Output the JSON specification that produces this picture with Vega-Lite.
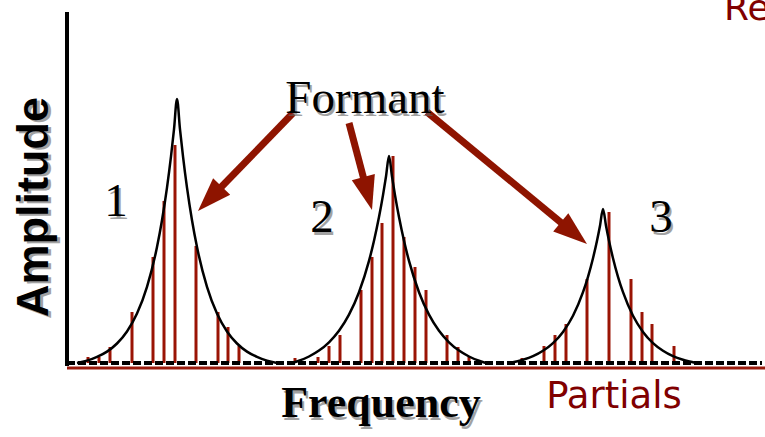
{
  "$schema": "https://vega.github.io/schema/vega-lite/v6.json",
  "width": 765,
  "height": 437,
  "autosize": "none",
  "padding": 0,
  "background": "white",
  "config": {"view": {"stroke": null}},
  "datasets": {
    "partials": [
      {"formant": 1, "f": 88, "a": 6}, {"formant": 1, "f": 99, "a": 6}, {"formant": 1, "f": 110, "a": 16},
      {"formant": 1, "f": 132, "a": 51}, {"formant": 1, "f": 153, "a": 106}, {"formant": 1, "f": 164, "a": 162},
      {"formant": 1, "f": 175, "a": 218}, {"formant": 1, "f": 196, "a": 117}, {"formant": 1, "f": 218, "a": 51},
      {"formant": 1, "f": 228, "a": 36}, {"formant": 1, "f": 239, "a": 17},
      {"formant": 2, "f": 295, "a": 5}, {"formant": 2, "f": 318, "a": 6}, {"formant": 2, "f": 329, "a": 17},
      {"formant": 2, "f": 340, "a": 28}, {"formant": 2, "f": 361, "a": 73}, {"formant": 2, "f": 372, "a": 106},
      {"formant": 2, "f": 382, "a": 140}, {"formant": 2, "f": 393, "a": 207}, {"formant": 2, "f": 404, "a": 126},
      {"formant": 2, "f": 415, "a": 96}, {"formant": 2, "f": 426, "a": 73}, {"formant": 2, "f": 447, "a": 28},
      {"formant": 2, "f": 458, "a": 16}, {"formant": 2, "f": 469, "a": 6},
      {"formant": 3, "f": 522, "a": 5}, {"formant": 3, "f": 544, "a": 17}, {"formant": 3, "f": 555, "a": 28},
      {"formant": 3, "f": 566, "a": 39}, {"formant": 3, "f": 587, "a": 84}, {"formant": 3, "f": 609, "a": 151},
      {"formant": 3, "f": 631, "a": 84}, {"formant": 3, "f": 642, "a": 51}, {"formant": 3, "f": 652, "a": 39},
      {"formant": 3, "f": 674, "a": 17}
    ],
    "envelope": [
      {"formant": 1, "f": 77, "a": 0}, {"formant": 1, "f": 87, "a": 2.4}, {"formant": 1, "f": 97, "a": 6.1},
      {"formant": 1, "f": 107, "a": 11.4}, {"formant": 1, "f": 117, "a": 19.5}, {"formant": 1, "f": 127, "a": 31.5},
      {"formant": 1, "f": 137, "a": 49.4}, {"formant": 1, "f": 147, "a": 76.1}, {"formant": 1, "f": 157, "a": 115.9},
      {"formant": 1, "f": 162, "a": 142.7}, {"formant": 1, "f": 167, "a": 175.3}, {"formant": 1, "f": 171, "a": 206.6},
      {"formant": 1, "f": 174, "a": 233.6}, {"formant": 1, "f": 177, "a": 264}, {"formant": 1, "f": 180, "a": 233.6},
      {"formant": 1, "f": 183, "a": 206.6}, {"formant": 1, "f": 187, "a": 175.3}, {"formant": 1, "f": 192, "a": 142.7},
      {"formant": 1, "f": 197, "a": 115.9}, {"formant": 1, "f": 207, "a": 76.1}, {"formant": 1, "f": 217, "a": 49.4},
      {"formant": 1, "f": 227, "a": 31.5}, {"formant": 1, "f": 237, "a": 19.5}, {"formant": 1, "f": 247, "a": 11.4},
      {"formant": 1, "f": 257, "a": 6.1}, {"formant": 1, "f": 267, "a": 2.4}, {"formant": 1, "f": 277, "a": 0},
      {"formant": 2, "f": 292, "a": 0}, {"formant": 2, "f": 299, "a": 2.2}, {"formant": 2, "f": 309, "a": 6.5},
      {"formant": 2, "f": 319, "a": 12.4}, {"formant": 2, "f": 329, "a": 20.7}, {"formant": 2, "f": 339, "a": 32.2},
      {"formant": 2, "f": 349, "a": 48.3}, {"formant": 2, "f": 359, "a": 70.8}, {"formant": 2, "f": 369, "a": 102.1},
      {"formant": 2, "f": 374, "a": 122.2}, {"formant": 2, "f": 379, "a": 145.9}, {"formant": 2, "f": 383, "a": 167.9},
      {"formant": 2, "f": 386, "a": 186.5}, {"formant": 2, "f": 389, "a": 207}, {"formant": 2, "f": 392, "a": 186.5},
      {"formant": 2, "f": 395, "a": 167.9}, {"formant": 2, "f": 399, "a": 145.9}, {"formant": 2, "f": 404, "a": 122.2},
      {"formant": 2, "f": 409, "a": 102.1}, {"formant": 2, "f": 419, "a": 70.8}, {"formant": 2, "f": 429, "a": 48.3},
      {"formant": 2, "f": 439, "a": 32.2}, {"formant": 2, "f": 449, "a": 20.7}, {"formant": 2, "f": 459, "a": 12.4},
      {"formant": 2, "f": 469, "a": 6.5}, {"formant": 2, "f": 479, "a": 2.2}, {"formant": 2, "f": 486, "a": 0},
      {"formant": 3, "f": 510, "a": 0}, {"formant": 3, "f": 523, "a": 3.2}, {"formant": 3, "f": 533, "a": 6.8},
      {"formant": 3, "f": 543, "a": 12.2}, {"formant": 3, "f": 553, "a": 19.9}, {"formant": 3, "f": 563, "a": 31.1},
      {"formant": 3, "f": 573, "a": 47.3}, {"formant": 3, "f": 583, "a": 70.8}, {"formant": 3, "f": 588, "a": 86.2},
      {"formant": 3, "f": 593, "a": 104.8}, {"formant": 3, "f": 597, "a": 122.3}, {"formant": 3, "f": 600, "a": 137.3},
      {"formant": 3, "f": 603, "a": 154}, {"formant": 3, "f": 606, "a": 137.3}, {"formant": 3, "f": 609, "a": 122.3},
      {"formant": 3, "f": 613, "a": 104.8}, {"formant": 3, "f": 618, "a": 86.2}, {"formant": 3, "f": 623, "a": 70.8},
      {"formant": 3, "f": 633, "a": 47.3}, {"formant": 3, "f": 643, "a": 31.1}, {"formant": 3, "f": 653, "a": 19.9},
      {"formant": 3, "f": 663, "a": 12.2}, {"formant": 3, "f": 673, "a": 6.8}, {"formant": 3, "f": 683, "a": 3.2},
      {"formant": 3, "f": 696, "a": 0}
    ],
    "arrows": [
      {"formant": 1, "f": 293, "a": 250, "f_base": 214.7, "a_base": 169.2, "f_tip": 198, "a_tip": 152, "heading": 224.1},
      {"formant": 2, "f": 349, "a": 240, "f_base": 365.9, "a_base": 176.2, "f_tip": 372, "a_tip": 153, "heading": 165.2},
      {"formant": 3, "f": 427, "a": 251, "f_base": 568.5, "a_base": 134.3, "f_tip": 587, "a_tip": 119, "heading": 129.5}
    ],
    "axes": [
      {"part": "partials rule", "f": 67, "f_end": 765, "a": -5, "a_end": -5},
      {"part": "baseline", "f": 67, "f_end": 762, "a": 0, "a_end": 0},
      {"part": "amplitude axis", "f": 67, "f_end": 67, "a": -3, "a_end": 351}
    ],
    "serifLabels": [
      {"text": "Formant", "f": 365, "a": 250},
      {"text": "1", "f": 116, "a": 147},
      {"text": "2", "f": 322, "a": 131},
      {"text": "3", "f": 661, "a": 131}
    ]
  },
  "encoding": {
    "x": {"field": "f", "type": "quantitative", "scale": {"domain": [0, 765], "nice": false, "zero": false}, "axis": null},
    "y": {"field": "a", "type": "quantitative", "scale": {"domain": [-74, 363], "nice": false, "zero": false}, "axis": null}
  },
  "layer": [
    {
      "data": {"name": "partials"},
      "mark": {"type": "rule", "color": "#9A1405", "strokeWidth": 3},
      "encoding": {"y2": {"datum": 0}}
    },
    {
      "data": {"name": "axes"},
      "transform": [{"filter": "datum.part === 'partials rule'"}],
      "mark": {"type": "rule", "color": "#9A1A0C", "strokeWidth": 3},
      "encoding": {"x2": {"field": "f_end"}, "y2": {"field": "a_end"}}
    },
    {
      "data": {"name": "axes"},
      "transform": [{"filter": "datum.part === 'baseline'"}],
      "mark": {"type": "rule", "color": "black", "strokeWidth": 4, "strokeDash": [8, 3]},
      "encoding": {"x2": {"field": "f_end"}, "y2": {"field": "a_end"}}
    },
    {
      "data": {"name": "axes"},
      "transform": [{"filter": "datum.part === 'amplitude axis'"}],
      "mark": {"type": "rule", "color": "black", "strokeWidth": 4},
      "encoding": {"x2": {"field": "f_end"}, "y2": {"field": "a_end"}}
    },
    {
      "data": {"name": "envelope"},
      "mark": {"type": "line", "color": "black", "strokeWidth": 2.5, "interpolate": "monotone"},
      "encoding": {
        "detail": {"field": "formant", "type": "nominal"},
        "order": {"field": "f", "type": "quantitative"}
      }
    },
    {
      "data": {"name": "arrows"},
      "mark": {"type": "rule", "color": "#8E1400", "strokeWidth": 7},
      "encoding": {"x2": {"field": "f_base"}, "y2": {"field": "a_base"}}
    },
    {
      "data": {"name": "arrows"},
      "mark": {"type": "point", "shape": "M0,0L-0.7,2L0.7,2Z", "filled": true, "color": "#8E1400", "opacity": 1, "size": 1156},
      "encoding": {
        "x": {"field": "f_tip", "type": "quantitative", "scale": {"domain": [0, 765], "nice": false, "zero": false}, "axis": null},
        "y": {"field": "a_tip", "type": "quantitative", "scale": {"domain": [-74, 363], "nice": false, "zero": false}, "axis": null},
        "angle": {"field": "heading", "type": "quantitative", "scale": null}
      }
    },
    {
      "data": {"name": "serifLabels"},
      "mark": {"type": "text", "font": "Liberation Serif", "fontSize": 47, "align": "center", "baseline": "alphabetic", "color": "#666666", "opacity": 0.6, "dx": 2, "dy": 3},
      "encoding": {"text": {"field": "text", "type": "nominal"}}
    },
    {
      "data": {"name": "serifLabels"},
      "mark": {"type": "text", "font": "Liberation Serif", "fontSize": 47, "align": "center", "baseline": "alphabetic", "color": "black"},
      "encoding": {"text": {"field": "text", "type": "nominal"}}
    },
    {
      "data": {"values": [{"text": "Frequency", "f": 381, "a": -54}]},
      "mark": {"type": "text", "font": "Liberation Serif", "fontWeight": "bold", "fontSize": 44, "align": "center", "baseline": "alphabetic", "color": "#666666", "opacity": 0.6, "dx": 2, "dy": 3},
      "encoding": {"text": {"field": "text", "type": "nominal"}}
    },
    {
      "data": {"values": [{"text": "Frequency", "f": 381, "a": -54}]},
      "mark": {"type": "text", "font": "Liberation Serif", "fontWeight": "bold", "fontSize": 44, "align": "center", "baseline": "alphabetic", "color": "black"},
      "encoding": {"text": {"field": "text", "type": "nominal"}}
    },
    {
      "data": {"values": [{"text": "Amplitude", "f": 48, "a": 156}]},
      "mark": {"type": "text", "font": "Liberation Sans", "fontWeight": "bold", "fontSize": 45, "align": "center", "baseline": "alphabetic", "angle": 270, "color": "#666666", "opacity": 0.6, "dx": -2, "dy": 3},
      "encoding": {"text": {"field": "text", "type": "nominal"}}
    },
    {
      "data": {"values": [{"text": "Amplitude", "f": 48, "a": 156}]},
      "mark": {"type": "text", "font": "Liberation Sans", "fontWeight": "bold", "fontSize": 45, "align": "center", "baseline": "alphabetic", "angle": 270, "color": "black"},
      "encoding": {"text": {"field": "text", "type": "nominal"}}
    },
    {
      "data": {"values": [{"text": "Partials", "f": 614, "a": -45}]},
      "mark": {"type": "text", "font": "DejaVu Sans", "fontSize": 37, "align": "center", "baseline": "alphabetic", "color": "#800000"},
      "encoding": {"text": {"field": "text", "type": "nominal"}}
    },
    {
      "data": {"values": [{"text": "Re", "f": 724, "a": 343}]},
      "mark": {"type": "text", "font": "DejaVu Sans", "fontSize": 36, "align": "left", "baseline": "alphabetic", "color": "#800000"},
      "encoding": {"text": {"field": "text", "type": "nominal"}}
    }
  ]
}
